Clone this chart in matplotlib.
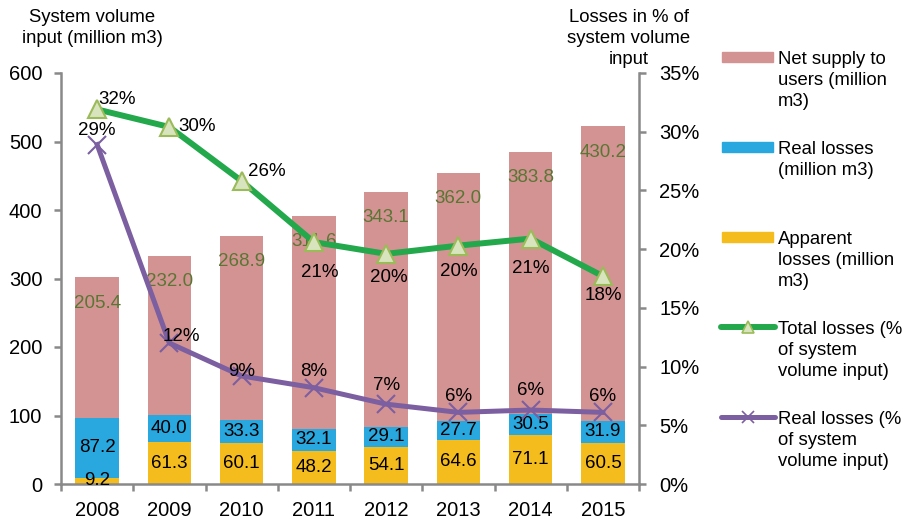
import matplotlib
matplotlib.use("Agg")
import matplotlib.pyplot as plt
import numpy as np
from matplotlib.lines import Line2D
from matplotlib.patches import Rectangle

plt.rcParams["font.family"] = ["Liberation Sans", "DejaVu Sans"]

years = ["2008", "2009", "2010", "2011", "2012", "2013", "2014", "2015"]
apparent = [9.2, 61.3, 60.1, 48.2, 54.1, 64.6, 71.1, 60.5]
real = [87.2, 40.0, 33.3, 32.1, 29.1, 27.7, 30.5, 31.9]
net_supply = [205.4, 232.0, 268.9, 311.6, 343.1, 362.0, 383.8, 430.2]
total_pct = [31.9, 30.4, 25.8, 20.6, 19.6, 20.3, 20.9, 17.7]
real_pct = [28.9, 12.0, 9.2, 8.2, 6.8, 6.1, 6.3, 6.1]

C_NET = "#D49393"
C_REAL = "#29A8E0"
C_APP = "#F5BC1E"
C_GREEN = "#23A84C"
C_PURPLE = "#7B5FA0"
C_OLIVE = "#5A7634"
C_SPINE = "#898989"

FS_TICK = 14.5
FS_LAB = 13.5
FS_TXT = 13.3

W, H = 909, 521
fig = plt.figure(figsize=(W / 100, H / 100), dpi=100)
ax = fig.add_axes([61 / W, 1 - 484 / H, 578 / W, 411 / H])
ax2 = ax.twinx()

x = np.arange(len(years))
app = np.array(apparent)
rl = np.array(real)
net = np.array(net_supply)

ax.bar(x, app, width=0.6, color=C_APP, zorder=2)
ax.bar(x, rl, width=0.6, bottom=app, color=C_REAL, zorder=2)
ax.bar(x, net, width=0.6, bottom=app + rl, color=C_NET, zorder=2)

for i in range(len(years)):
    ax.text(x[i], app[i] / 2, f"{app[i]:.1f}", ha="center", va="center", fontsize=FS_LAB, zorder=3)
    ax.text(x[i], app[i] + rl[i] / 2, f"{rl[i]:.1f}", ha="center", va="center", fontsize=FS_LAB, zorder=3)
    ax.annotate(f"{net[i]:.1f}", (x[i], app[i] + rl[i] + net[i]), xytext=(0, -26),
                textcoords="offset pixels", ha="center", va="center", fontsize=FS_LAB,
                color=C_OLIVE, zorder=3)

tp = np.array(total_pct) / 100
rp = np.array(real_pct) / 100
ax2.plot(x, tp, color=C_GREEN, lw=4.3, marker="^", ms=13, mfc="#D7E4BD",
         mec="#9BBB59", mew=1.5, zorder=4)
ax2.plot(x, rp, color=C_PURPLE, lw=3.6, marker="x", ms=13, mew=1.5, zorder=4)

# label offsets in pixels (dx, dy)
total_off = [(20, 10), (28, 1), (25, 10), (6, -30), (3, -24), (0, -26), (0, -30), (0, -19)]
real_off = [(0, 14), (12, 7), (0, 4), (0, 16), (0, 19), (0, 16), (0, 20), (0, 16)]
for i in range(len(years)):
    ax2.annotate(f"{total_pct[i]:.0f}%", (x[i], tp[i]), xytext=total_off[i],
                 textcoords="offset pixels", ha="center", va="center", fontsize=FS_LAB, zorder=5)
    ax2.annotate(f"{real_pct[i]:.0f}%", (x[i], rp[i]), xytext=real_off[i],
                 textcoords="offset pixels", ha="center", va="center", fontsize=FS_LAB, zorder=5)

ax.set_xlim(-0.5, len(years) - 0.5)
ax.set_ylim(0, 600)
ax.set_yticks(range(0, 601, 100))
ax2.set_ylim(0, 0.35)
ax2.set_yticks(np.arange(0, 0.351, 0.05))
ax2.set_yticklabels([f"{v}%" for v in range(0, 36, 5)])
ax.set_xticks(x)
ax.set_xticklabels(years)
ax.set_xticks(np.arange(-0.5, len(years)), minor=True)

for a in (ax, ax2):
    for s in a.spines.values():
        s.set_visible(False)
ax.spines["left"].set_visible(True)
ax.spines["bottom"].set_visible(True)
ax2.spines["right"].set_visible(True)
for s in (ax.spines["left"], ax.spines["bottom"], ax2.spines["right"]):
    s.set_color(C_SPINE)
    s.set_linewidth(1.8)

ax.tick_params(axis="y", direction="out", length=5, width=1.8, color=C_SPINE,
               labelsize=FS_TICK, pad=8.5)
ax.tick_params(axis="x", which="major", length=0, labelsize=FS_TICK, pad=12)
ax.tick_params(axis="x", which="minor", direction="out", length=5, width=1.8, color=C_SPINE)
ax2.tick_params(axis="y", direction="out", length=5, width=1.8, color=C_SPINE,
                labelsize=FS_TICK, pad=9.5)
ax.set_zorder(ax2.get_zorder() - 1)
ax.patch.set_visible(True)
ax2.patch.set_visible(False)

fig.text(92 / W, 1 - 9 / H, "System volume\ninput (million m3)", ha="center", va="top",
         fontsize=FS_TXT, linespacing=1.3)
fig.text(629 / W, 1 - 9 / H, "Losses in % of\nsystem volume\ninput", ha="center", va="top",
         fontsize=FS_TXT, linespacing=1.3)

# legend drawn by hand: handle aligned with first text line
legend_items = [
    ("patch", C_NET, "Net supply to\nusers (million\nm3)"),
    ("patch", C_REAL, "Real losses\n(million m3)"),
    ("patch", C_APP, "Apparent\nlosses (million\nm3)"),
    ("tri", C_GREEN, "Total losses (%\nof system\nvolume input)"),
    ("x", C_PURPLE, "Real losses (%\nof system\nvolume input)"),
]
for k, (kind, col, lab) in enumerate(legend_items):
    yc = 57 + 90 * k
    if kind == "patch":
        fig.add_artist(Rectangle((722 / W, 1 - (yc + 5) / H), 51 / W, 10 / H,
                                 transform=fig.transFigure, color=col))
    elif kind == "tri":
        fig.add_artist(Line2D([721 / W, 775 / W], [1 - yc / H] * 2, color=col, lw=4.3,
                              solid_capstyle="round", transform=fig.transFigure))
        fig.add_artist(Line2D([748 / W], [1 - yc / H], marker="^", ms=9, mfc="#D7E4BD",
                              mec="#9BBB59", mew=1.2, transform=fig.transFigure))
    else:
        fig.add_artist(Line2D([721 / W, 775 / W], [1 - yc / H] * 2, color=col, lw=3.6,
                              solid_capstyle="round", transform=fig.transFigure))
        fig.add_artist(Line2D([748 / W], [1 - yc / H], marker="x", ms=9, color=col,
                              mew=1.2, transform=fig.transFigure))
    fig.text(778 / W, 1 - (yc - 6) / H, lab, ha="left", va="top", fontsize=FS_TXT,
             linespacing=1.3)

fig.savefig("out.png", dpi=100)
